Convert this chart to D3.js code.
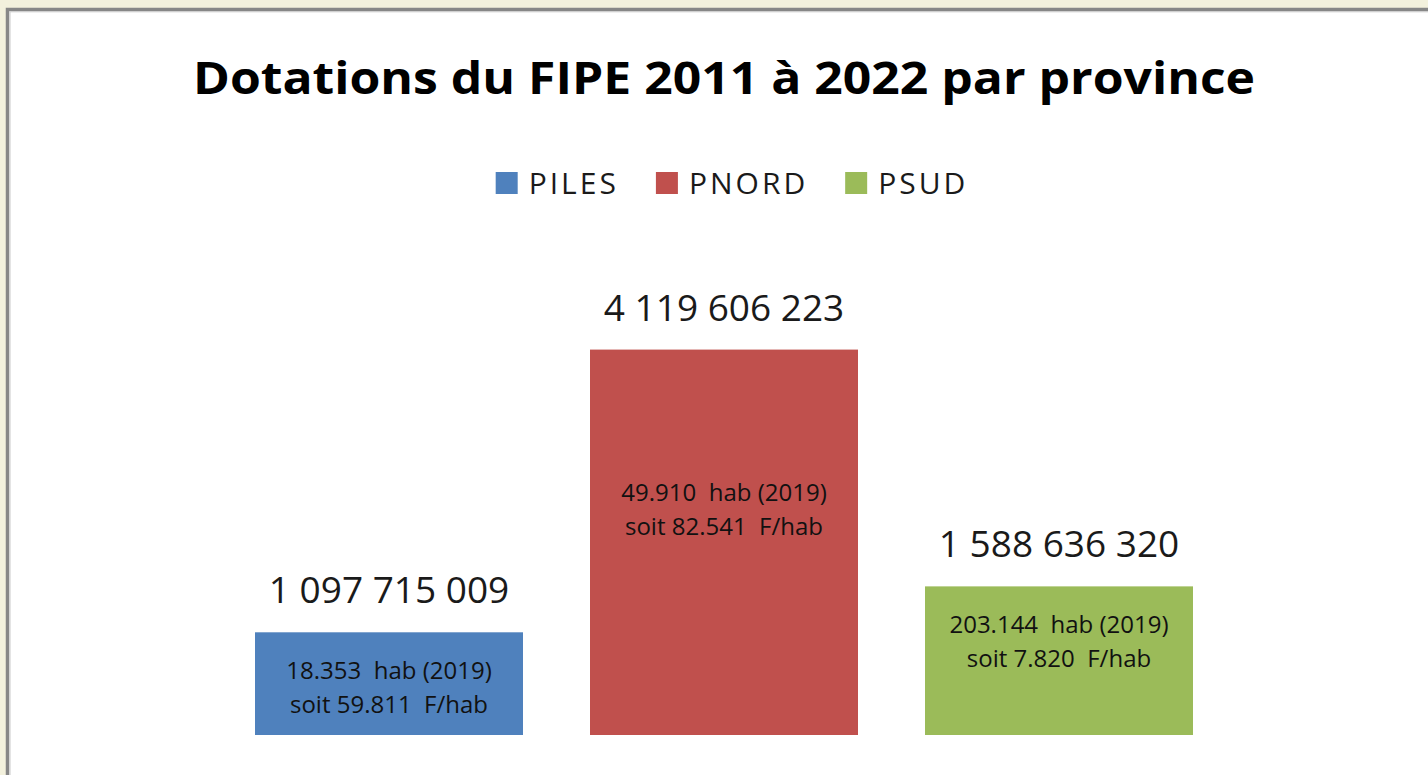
<!DOCTYPE html>
<html>
<head>
<meta charset="utf-8">
<script src="https://cdn.jsdelivr.net/npm/d3@7"></script>
<style>
  html, body { margin: 0; padding: 0; background: #f3f1dd; }
  svg { display: block; }
  text { font-family: "Open Sans", sans-serif; fill: #1a1a1a; }
  .note { white-space: pre; }
</style>
</head>
<body>
<svg id="chart" width="1428" height="775"></svg>
<script>
// data
const provinces = ["PILES", "PNORD", "PSUD"];
const dotations = [1097715009, 4119606223, 1588636320];
const habitants = ["18.353", "49.910", "203.144"];
const parHabitant = ["59.811", "82.541", "7.820"];
const colours = ["#4f81bd", "#c0504d", "#9bbb59"];
const title = "Dotations du FIPE 2011 à 2022 par province";

const W = 1428, H = 775;
const svg = d3.select("#chart");

// frame
svg.append("rect")
  .attr("x", 7.5).attr("y", 9.5)
  .attr("width", W + 10).attr("height", H + 10)
  .attr("fill", "#fff")
  .attr("stroke", "#878787")
  .attr("stroke-width", 3.5);
svg.append("rect")
  .attr("x", 10).attr("y", 11.8)
  .attr("width", W).attr("height", H)
  .attr("fill", "none")
  .attr("stroke", "#c9c9c9")
  .attr("stroke-width", 1);

const data = provinces.map((p, i) => ({
  name: p,
  value: dotations[i],
  hab: habitants[i],
  perHab: parHabitant[i],
  colour: colours[i]
}));

const x = d3.scaleBand()
  .domain(provinces)
  .range([221.5, 1226.5])
  .paddingInner(0.2)
  .paddingOuter(0.1);

const y = d3.scaleLinear()
  .domain([0, 4.5e9])
  .range([735, 314]);

const color = d3.scaleOrdinal().domain(provinces).range(colours);

const fmt = d3.formatLocale({
  decimal: ",", thousands: " ", grouping: [3], currency: ["", ""]
}).format(",d");

// title
svg.append("text")
  .attr("x", 724)
  .attr("y", 94)
  .attr("text-anchor", "middle")
  .attr("font-size", 45)
  .attr("font-weight", 700)
  .attr("textLength", 1062)
  .attr("lengthAdjust", "spacingAndGlyphs")
  .style("fill", "#000")
  .text(title);

// legend
const legend = svg.append("g").attr("class", "legend");
const items = legend.selectAll("g")
  .data(provinces)
  .join("g");

items.append("rect")
  .attr("width", 22)
  .attr("height", 22)
  .attr("y", 172)
  .attr("fill", (d) => color(d));

items.append("text")
  .attr("x", 33)
  .attr("y", 194)
  .attr("font-size", 30)
  .attr("letter-spacing", 3)
  .text((d) => d);

let lx = 0;
items.each(function () {
  const g = d3.select(this);
  g.attr("transform", `translate(${lx},0)`);
  lx += 33 + g.select("text").node().getComputedTextLength() + 37;
});
const legendW = lx - 37;
legend.attr("transform", `translate(${732 - legendW / 2},0)`);

// bars
const bars = svg.append("g")
  .selectAll("g")
  .data(data)
  .join("g");

bars.append("rect")
  .attr("x", (d) => x(d.name))
  .attr("y", (d) => y(d.value))
  .attr("width", x.bandwidth())
  .attr("height", (d) => y(0) - y(d.value))
  .attr("fill", (d) => d.colour);

// value above each bar
bars.append("text")
  .attr("x", (d) => x(d.name) + x.bandwidth() / 2)
  .attr("y", (d) => y(d.value) - 29)
  .attr("text-anchor", "middle")
  .attr("font-size", 37)
  .text((d) => fmt(d.value));

// population note inside each bar
const notes = bars.append("text")
  .attr("class", "note")
  .attr("text-anchor", "middle")
  .attr("font-size", 24)
  .style("fill", "#111")
  .attr("transform", (d) => {
    const top = Math.max(y(d.value) + 47, y(2.5e9));
    return `translate(${x(d.name) + x.bandwidth() / 2},${top})`;
  });

notes.append("tspan")
  .attr("x", 0)
  .attr("y", 0)
  .text((d) => `${d.hab}  hab (2019)`);

notes.append("tspan")
  .attr("x", 0)
  .attr("y", 34)
  .text((d) => `soit ${d.perHab}  F/hab`);
</script>
</body>
</html>
